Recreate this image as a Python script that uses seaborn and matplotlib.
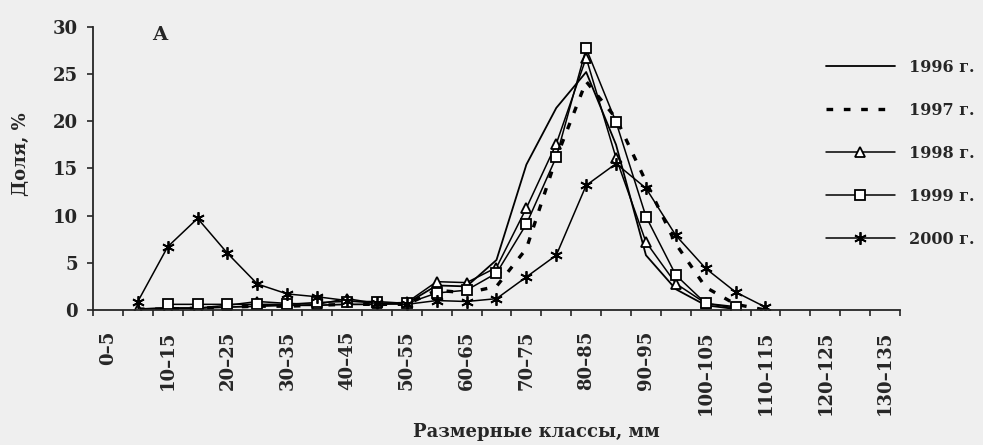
"""Доля размерных классов по годам (1996–2000), панель A."""

import matplotlib

matplotlib.use("Agg")

import matplotlib.pyplot as plt
import numpy as np
import pandas as pd
import seaborn as sns
from matplotlib.ticker import FixedLocator, NullFormatter

sns.set_style("ticks")
plt.rcParams["font.family"] = ["DejaVu Serif", "DejaVu Sans"]
plt.rcParams["font.weight"] = "bold"

nan = np.nan

CLASSES = ["0–5", "5–10", "10–15", "15–20", "20–25", "25–30", "30–35",
           "35–40", "40–45", "45–50", "50–55", "55–60", "60–65", "65–70",
           "70–75", "75–80", "80–85", "85–90", "90–95", "95–100", "100–105",
           "105–110", "110–115", "115–120", "120–125", "125–130", "130–135"]

Y1996 = [nan, 0.1, 0.2, 0.2, 0.3, 0.4, 0.5, 0.5, 0.6, 0.6, 0.7, 2.6, 2.5, 5.3,
         15.4, 21.4, 25.2, 17.5, 5.8, 2.2, 0.5, 0.1, nan, nan, nan, nan, nan]
Y1997 = [nan, 0.1, 0.1, 0.2, 0.3, 0.4, 0.4, 0.5, 0.6, 0.6, 0.6, 2.1, 1.8, 2.5,
         6.5, 16.1, 24.2, 20.3, 13.6, 7.0, 2.4, 0.6, 0.0, nan, nan, nan, nan]
Y1998 = [nan, 0.1, 0.2, 0.2, 0.5, 0.9, 0.7, 0.6, 1.2, 0.7, 0.8, 3.0, 2.9, 4.5,
         10.8, 17.6, 26.7, 16.1, 7.2, 2.8, 0.7, 0.2, nan, nan, nan, nan, nan]
Y1999 = [nan, nan, 0.6, 0.6, 0.6, 0.6, 0.6, 0.8, 0.9, 0.9, 0.7, 1.8, 2.1, 3.9,
         9.1, 16.2, 27.7, 19.9, 9.9, 3.7, 0.7, 0.35, nan, nan, nan, nan, nan]
Y2000 = [nan, 0.9, 6.7, 9.7, 6.0, 2.75, 1.7, 1.4, 1.0, 0.7, 0.6, 1.0, 0.9, 1.2,
         3.5, 5.8, 13.2, 15.5, 12.9, 7.9, 4.4, 1.9, 0.3, nan, nan, nan, nan]

YEARS = ["1996 г.", "1997 г.", "1998 г.", "1999 г.", "2000 г."]
SERIES = [Y1996, Y1997, Y1998, Y1999, Y2000]

STYLES = {
    "1996 г.": dict(linestyle="-", linewidth=1.3),
    "1997 г.": dict(linestyle=(0, (2.0, 3.2)), linewidth=2.4),
    "1998 г.": dict(linestyle="-", linewidth=1.1, marker="^", markersize=7.5),
    "1999 г.": dict(linestyle="-", linewidth=1.1, marker="s", markersize=7.5),
    "2000 г.": dict(linestyle="-", linewidth=1.1, marker=(6, 2, 0), markersize=9),
}

df = pd.DataFrame({"pos": np.arange(len(CLASSES))})
for year, values in zip(YEARS, SERIES):
    df[year] = values
long = df.melt(id_vars="pos", var_name="year", value_name="share").dropna()

BG = "#efefef"
fig = plt.figure(figsize=(9.83, 4.45), dpi=100, facecolor=BG)
ax = fig.add_axes([93 / 983, 1 - 310 / 445, 807 / 983, (310 - 26.7) / 445])
ax.set_facecolor(BG)

for year in YEARS:
    sub = long[long["year"] == year]
    sns.lineplot(data=sub, x="pos", y="share", ax=ax, color="black",
                 errorbar=None, label=year, markerfacecolor="white",
                 markeredgecolor="black", markeredgewidth=1.3,
                 **STYLES[year])

ax.set_xlim(-0.5, len(CLASSES) - 0.5)
ax.set_ylim(0, 30)
ax.set_yticks([0, 5, 10, 15, 20, 25, 30])
sns.despine(ax=ax)
for sp in ("left", "bottom"):
    ax.spines[sp].set_linewidth(1.3)

major = list(range(0, len(CLASSES), 2))
ax.xaxis.set_major_locator(FixedLocator(major))
ax.set_xticklabels([CLASSES[i] for i in major], rotation=90, va="top")
ax.xaxis.set_minor_locator(FixedLocator(np.arange(-0.5, len(CLASSES), 1.0)))
ax.xaxis.set_minor_formatter(NullFormatter())
ax.tick_params(axis="x", which="major", length=0, pad=14.5, labelsize=13)
ax.tick_params(axis="x", which="minor", length=4, width=1.2, direction="out")
ax.tick_params(axis="y", length=4, width=1.2, pad=7, labelsize=13)

ax.set_xlabel("Размерные классы, мм", fontsize=13, fontweight="bold")
ax.xaxis.set_label_coords(0.55, -0.40)
ax.set_ylabel("Доля, %", fontsize=13, fontweight="bold")
ax.yaxis.set_label_coords(-0.078, 0.55)

ax.text(0.083, 0.97, "A", transform=ax.transAxes, fontsize=14,
        fontweight="bold", ha="center", va="center")

ax.legend(loc="upper left", bbox_to_anchor=(826 / 983, 1 - 59 / 445),
          bbox_transform=fig.transFigure, frameon=False, fontsize=11.5,
          handlelength=4.3, handletextpad=0.9, labelspacing=1.62,
          borderpad=0, borderaxespad=0, numpoints=1)

fig.savefig("out.png", dpi=100, facecolor=BG)
